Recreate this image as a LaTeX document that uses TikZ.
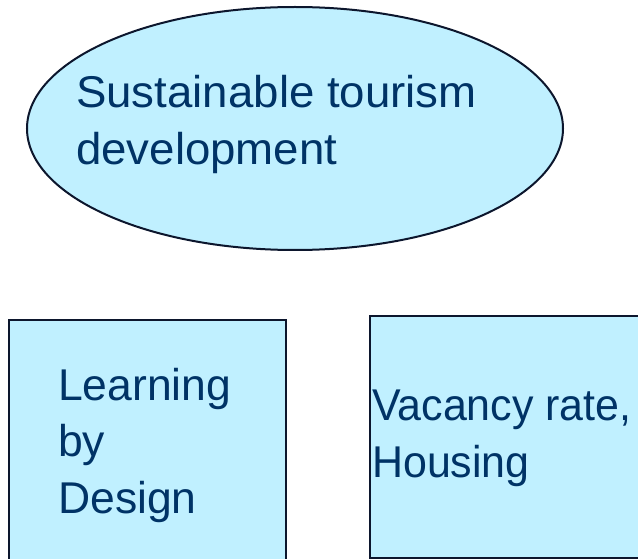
\documentclass[tikz,border=0pt]{standalone}
\usepackage{fontspec}
\setmainfont{Liberation Sans}
\newfontfamily\narrowf[FakeStretch=0.965]{Liberation Sans}
\newfontfamily\widef[FakeStretch=1.025]{Liberation Sans}
\usetikzlibrary{shapes.geometric}
\definecolor{fillc}{RGB}{192,240,255}
\definecolor{txtc}{RGB}{0,51,102}
\definecolor{linec}{RGB}{12,22,45}
\begin{document}
\begin{tikzpicture}[x=1pt,y=-1pt,
  shapebox/.style={draw=linec, line width=2pt, fill=fillc, inner sep=0pt},
  lbl/.style={text=txtc, font=\fontsize{44.5}{57}\selectfont, align=left, inner sep=0pt, anchor=north west}]
\useasboundingbox (0,0) rectangle (638,559);
\clip (0,0) rectangle (638,559);
\fill[white] (0,0) rectangle (638,559);
\node[shapebox, ellipse, minimum width=536pt, minimum height=243pt] (ell) at (295,128.5) {};
\node[shapebox, rectangle, minimum width=277pt, minimum height=300pt, anchor=north west] (boxA) at (8,319) {};
\node[shapebox, rectangle, minimum width=320pt, minimum height=242pt, anchor=north west] (boxB) at (369,315) {};
\node[lbl, font=\widef\fontsize{44.5}{57}\selectfont] (ellt) at (76,75) {Sustainable tourism\\development};
\node[lbl, font=\fontsize{44.5}{56.5}\selectfont] (boxAt) at (58,368) {Learning\\by\\Design};
\node[lbl, font=\narrowf\fontsize{44.5}{57}\selectfont] (boxBt) at (372,390) {Vacancy rate,\\Housing};
\end{tikzpicture}
\end{document}
